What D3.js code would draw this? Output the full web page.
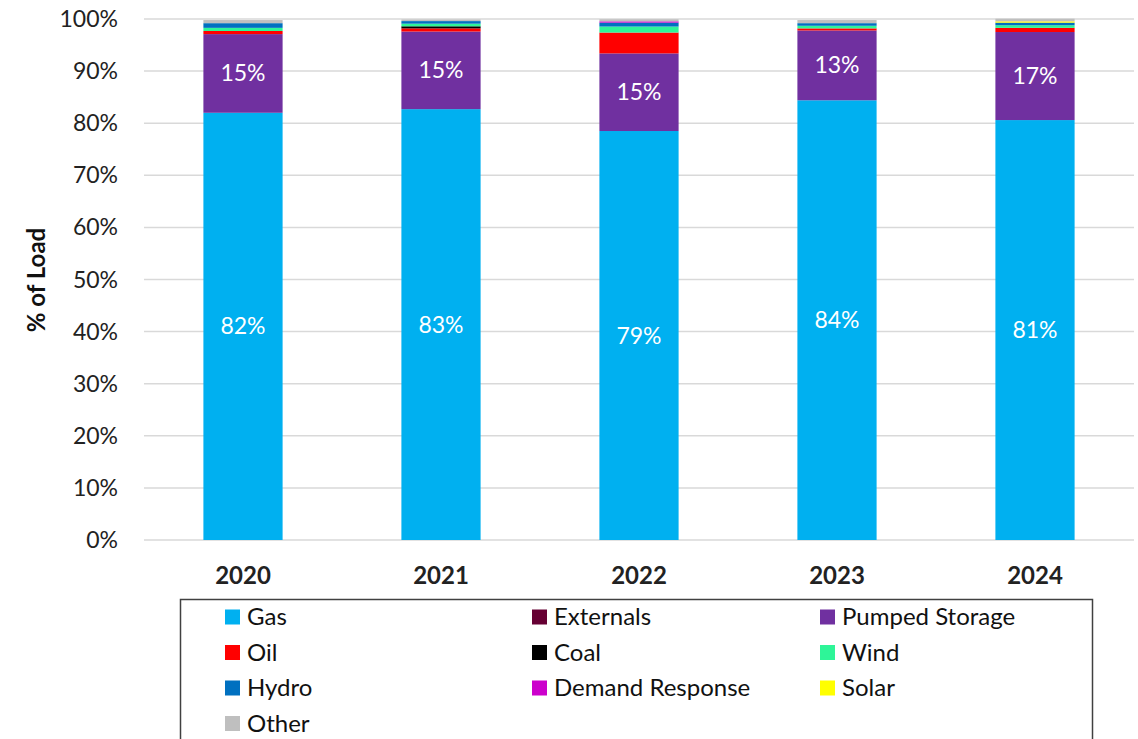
<!DOCTYPE html>
<html>
<head>
<meta charset="utf-8">
<script src="https://cdn.jsdelivr.net/npm/d3@7"></script>
<style>
  body { margin: 0; background: #fff; }
  svg { display: block; font-family: Lato, "Open Sans", sans-serif; }
</style>
</head>
<body>
<svg id="chart"></svg>
<script>
const years = ["2020", "2021", "2022", "2023", "2024"];

// % of load by resource
const gas = [82.0, 82.7, 78.5, 84.4, 80.6];
const externals = [0, 0, 0, 0, 0];
const pumpedStorage = [15.1, 14.9, 14.9, 13.4, 16.9];
const oil = [0.6, 0.6, 4.0, 0.4, 0.8];
const coal = [0, 0.4, 0, 0, 0];
const wind = [0.6, 0.5, 1.15, 0.5, 0.5];
const hydro = [0.9, 0.5, 0.75, 0.5, 0.5];
const demandResponse = [0, 0, 0.25, 0, 0];
const solar = [0, 0, 0, 0, 0.25];
const other = [0.6, 0.3, 0.4, 0.6, 0.5];

const series = ["Gas", "Externals", "Pumped Storage", "Oil", "Coal", "Wind", "Hydro", "Demand Response", "Solar", "Other"];
const seriesValues = [gas, externals, pumpedStorage, oil, coal, wind, hydro, demandResponse, solar, other];
const colors = ["#00B0F0", "#660033", "#7030A0", "#FF0000", "#000000", "#2EF598", "#0070C0", "#CC00CC", "#FFFF00", "#BFBFBF"];
const yTicks = [0, 10, 20, 30, 40, 50, 60, 70, 80, 90, 100];

const width = 1138, height = 739;
const margin = { top: 19, right: 4, bottom: 199, left: 144 };

const table = years.map((y, i) => {
  const row = { year: y };
  series.forEach((s, j) => row[s] = seriesValues[j][i]);
  return row;
});

const svg = d3.select("#chart")
  .attr("width", width)
  .attr("height", height);

const x = d3.scaleBand()
  .domain(years)
  .range([margin.left, width - margin.right])
  .paddingInner(0.6)
  .paddingOuter(0.3);

const y = d3.scaleLinear()
  .domain([0, 100])
  .range([height - margin.bottom, margin.top]);

const color = d3.scaleOrdinal().domain(series).range(colors);

// gridlines
svg.append("g")
  .selectAll("line")
  .data(yTicks)
  .join("line")
  .attr("x1", margin.left)
  .attr("x2", width - margin.right)
  .attr("y1", d => y(d))
  .attr("y2", d => y(d))
  .attr("stroke", "#d9d9d9")
  .attr("stroke-width", 1.5);

// y tick labels
svg.append("g")
  .selectAll("text")
  .data(yTicks)
  .join("text")
  .attr("x", 118)
  .attr("y", d => y(d))
  .attr("dy", "0.35em")
  .attr("text-anchor", "end")
  .attr("font-size", 23)
  .attr("fill", "#222")
  .text(d => d + "%");

const stacked = d3.stack().keys(series)(table);

svg.append("g")
  .selectAll("g")
  .data(stacked)
  .join("g")
  .attr("fill", d => color(d.key))
  .selectAll("rect")
  .data(d => d)
  .join("rect")
  .attr("x", d => x(d.data.year))
  .attr("width", x.bandwidth())
  .attr("y", d => y(d[1]))
  .attr("height", d => y(d[0]) - y(d[1]));

// value labels on Gas and Pumped Storage
const labelled = stacked.filter(s => s.key === "Gas" || s.key === "Pumped Storage");
svg.append("g")
  .selectAll("g")
  .data(labelled)
  .join("g")
  .selectAll("text")
  .data(d => d.map(p => ({ p, key: d.key })))
  .join("text")
  .attr("x", d => x(d.p.data.year) + x.bandwidth() / 2)
  .attr("y", d => y((d.p[0] + d.p[1]) / 2))
  .attr("dy", "0.35em")
  .attr("text-anchor", "middle")
  .attr("font-size", 23)
  .attr("fill", "#fff")
  .text(d => Math.round(d.p.data[d.key]) + "%");

// x labels
svg.append("g")
  .selectAll("text")
  .data(years)
  .join("text")
  .attr("x", d => x(d) + x.bandwidth() / 2)
  .attr("y", 576)
  .attr("dy", "0.35em")
  .attr("text-anchor", "middle")
  .attr("font-size", 24)
  .attr("font-weight", "bold")
  .attr("fill", "#222")
  .text(d => d);

// y axis title
svg.append("text")
  .attr("transform", "translate(37,280) rotate(-90)")
  .attr("dy", "0.35em")
  .attr("text-anchor", "middle")
  .attr("font-size", 24)
  .attr("font-weight", "bold")
  .attr("fill", "#111")
  .text("% of Load");

// legend
svg.append("rect")
  .attr("x", 180.5)
  .attr("y", 599.5)
  .attr("width", 912)
  .attr("height", 160)
  .attr("fill", "none")
  .attr("stroke", "#404040")
  .attr("stroke-width", 1.5);

const colX = [225, 532, 820];
const legend = svg.append("g")
  .selectAll("g")
  .data(series)
  .join("g")
  .attr("transform", (d, i) => `translate(${colX[i % 3]}, ${617 + Math.floor(i / 3) * 35.5})`);

legend.append("rect")
  .attr("x", 0)
  .attr("y", -7.5)
  .attr("width", 15)
  .attr("height", 15)
  .attr("fill", d => color(d));

legend.append("text")
  .attr("x", 22)
  .attr("dy", "0.35em")
  .attr("font-size", 24)
  .attr("fill", "#111")
  .text(d => d);
</script>
</body>
</html>
